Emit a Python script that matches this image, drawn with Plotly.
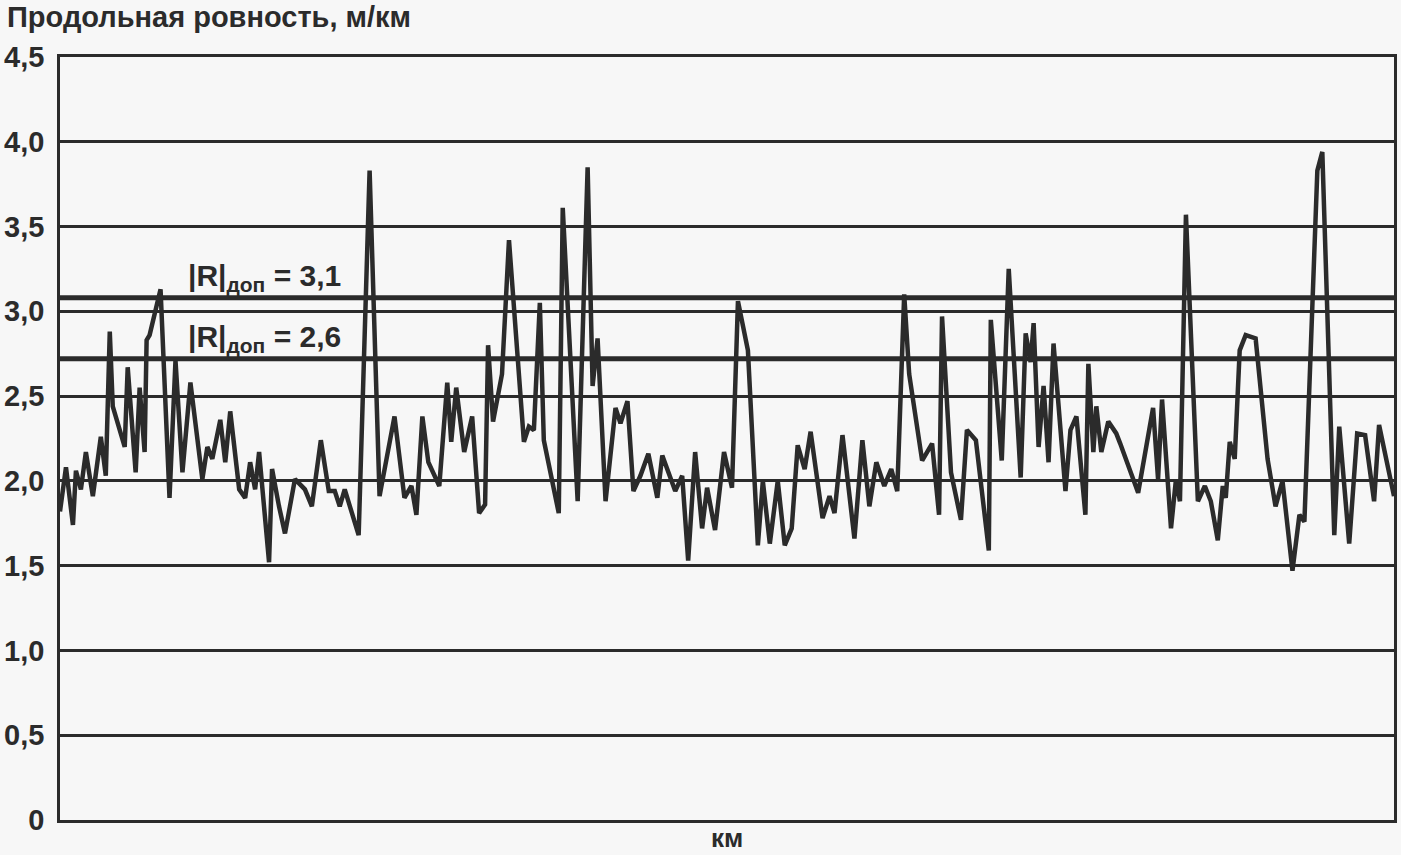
import plotly.graph_objects as go

# Distance along the road (km, arbitrary section scale) and longitudinal roughness (m/km)
km = [0.0, 1.2, 2.6, 3.2, 4.2, 5.2, 6.6, 8.2, 9.2, 10.0,
      10.6, 12.0, 13.0, 13.6, 15.2, 16.0, 17.0, 17.4, 18.0, 20.2,
      22.0, 23.2, 24.6, 26.2, 28.6, 29.6, 30.6, 32.2, 33.2, 34.2,
      36.0, 37.2, 38.2, 39.2, 40.0, 42.0, 42.6, 44.0, 45.2, 47.2,
      49.2, 50.6, 52.4, 54.0, 55.2, 56.2, 57.2, 60.0, 62.2, 64.2,
      67.2, 69.2, 70.6, 71.6, 72.8, 74.0, 76.2, 77.8, 78.6, 79.6,
      81.2, 82.8, 84.2, 85.4, 86.0, 87.0, 88.8, 90.2, 93.2, 94.2,
      95.2, 96.4, 97.2, 100.2, 101.0, 104.0, 106.0, 107.0, 108.0, 109.6,
      111.6, 112.6, 114.0, 115.2, 116.6, 118.2, 120.0, 121.0, 123.6, 125.0,
      126.2, 127.6, 129.0, 130.0, 131.6, 133.4, 135.0, 136.2, 138.2, 140.2,
      141.2, 142.6, 144.2, 145.6, 147.0, 148.2, 149.6, 150.8, 153.2, 154.6,
      155.6, 157.2, 159.6, 161.2, 162.6, 164.0, 165.6, 167.0, 168.2, 169.6,
      170.6, 173.2, 175.2, 176.6, 177.2, 179.0, 181.0, 182.2, 184.0, 186.6,
      187.0, 189.2, 190.6, 193.0, 194.0, 195.0, 195.6, 196.6, 197.6, 198.6,
      199.6, 202.0, 203.0, 204.2, 206.0, 206.6, 207.6, 208.2, 209.2, 210.6,
      212.2, 213.0, 215.6, 216.6, 219.6, 220.6, 221.4, 223.2, 224.2, 225.0,
      226.2, 228.6, 230.0, 231.2, 232.6, 233.6, 234.2, 235.0, 236.0, 237.0,
      238.2, 240.2, 242.6, 244.2, 245.6, 247.6, 249.0, 250.0, 252.6, 253.6,
      256.0, 257.0, 259.0, 260.6, 262.2, 264.0, 265.0, 268.0]
roughness = [1.82, 2.08, 1.74, 2.06, 1.95, 2.17, 1.91, 2.26, 2.03, 2.88,
             2.44, 2.30, 2.20, 2.67, 2.05, 2.55, 2.17, 2.83, 2.86, 3.13,
             1.90, 2.71, 2.05, 2.58, 2.01, 2.20, 2.13, 2.36, 2.11, 2.41,
             1.95, 1.90, 2.11, 1.95, 2.17, 1.52, 2.07, 1.85, 1.69, 2.01,
             1.95, 1.85, 2.24, 1.94, 1.94, 1.85, 1.95, 1.68, 3.83, 1.91,
             2.38, 1.90, 1.97, 1.80, 2.38, 2.11, 1.97, 2.58, 2.23, 2.55,
             2.17, 2.38, 1.81, 1.86, 2.80, 2.35, 2.63, 3.42, 2.23, 2.32,
             2.30, 3.05, 2.24, 1.81, 3.61, 1.88, 3.85, 2.56, 2.84, 1.88,
             2.43, 2.34, 2.47, 1.94, 2.03, 2.16, 1.90, 2.15, 1.94, 2.03,
             1.53, 2.17, 1.72, 1.96, 1.71, 2.17, 1.96, 3.06, 2.77, 1.62,
             2.00, 1.63, 2.00, 1.62, 1.72, 2.21, 2.07, 2.29, 1.78, 1.91,
             1.81, 2.27, 1.66, 2.24, 1.85, 2.11, 1.97, 2.07, 1.94, 3.10,
             2.63, 2.12, 2.22, 1.80, 2.97, 2.05, 1.77, 2.30, 2.24, 1.59,
             2.95, 2.12, 3.25, 2.02, 2.87, 2.70, 2.93, 2.20, 2.56, 2.11,
             2.81, 1.94, 2.30, 2.38, 1.80, 2.69, 2.17, 2.44, 2.17, 2.35,
             2.28, 2.22, 2.00, 1.93, 2.43, 2.01, 2.48, 1.72, 2.01, 1.88,
             3.57, 1.88, 1.97, 1.88, 1.65, 1.97, 1.90, 2.23, 2.13, 2.77,
             2.86, 2.84, 2.13, 1.85, 2.00, 1.47, 1.80, 1.76, 3.83, 3.94,
             1.68, 2.32, 1.63, 2.28, 2.27, 1.88, 2.33, 1.91]

# Permissible-value lines (as drawn) and their labels
limit_levels = [3.08, 2.72]
limit_labels = ["|R|<sub>доп</sub> = 3,1", "|R|<sub>доп</sub> = 2,6"]
limit_label_y = [3.20, 2.84]

y_ticks = [0, 0.5, 1.0, 1.5, 2.0, 2.5, 3.0, 3.5, 4.0, 4.5]
y_tick_labels = ["0", "0,5", "1,0", "1,5", "2,0", "2,5", "3,0", "3,5", "4,0", "4,5"]

INK = "#2b2b2b"
FONT = "Liberation Sans, Arial, sans-serif"

fig = go.Figure()
fig.add_trace(go.Scatter(x=km, y=roughness, mode="lines",
                         line=dict(color=INK, width=4.5), showlegend=False,
                         hoverinfo="x+y"))

for lvl in limit_levels:
    fig.add_shape(type="line", xref="paper", x0=0, x1=1, yref="y", y0=lvl, y1=lvl,
                  line=dict(color=INK, width=5), layer="below")

for txt, ly in zip(limit_labels, limit_label_y):
    fig.add_annotation(x=25.4, y=ly, xref="x", yref="y", text=txt, showarrow=False,
                       xanchor="left", yanchor="middle",
                       font=dict(family=FONT, size=30, color=INK, weight="bold"))

fig.add_annotation(x=-55 / 1340, y=1, xref="paper", yref="paper",
                   text="Продольная ровность, м/км", showarrow=False,
                   xanchor="left", yanchor="bottom", yshift=22,
                   font=dict(family=FONT, size=29, color=INK, weight="bold"))
fig.add_annotation(x=0.5, y=0, xref="paper", yref="paper", text="км",
                   showarrow=False, xanchor="center", yanchor="top", yshift=-1,
                   font=dict(family=FONT, size=26, color=INK, weight="bold"))

fig.update_layout(
    width=1401, height=855,
    margin=dict(l=57, r=4, t=57, b=35),
    paper_bgcolor="#f7f7f7", plot_bgcolor="#f7f7f7",
    font=dict(family=FONT, color=INK),
    xaxis=dict(range=[0, 268], showgrid=False, zeroline=False, showticklabels=False,
               ticks="", showline=True, mirror=True, linecolor=INK, linewidth=2.5),
    yaxis=dict(range=[0, 4.5], tickvals=y_ticks, ticktext=y_tick_labels,
               showgrid=True, gridcolor=INK, gridwidth=2.5, zeroline=False,
               showline=True, mirror=True, linecolor=INK, linewidth=2.5,
               ticks="", ticklabelstandoff=7,
               tickfont=dict(family=FONT, size=29, color=INK, weight="bold")),
)

fig.write_html("out.html", config={"displayModeBar": False},
               post_script="document.body.style.margin='0';document.body.style.background='#f7f7f7';")
